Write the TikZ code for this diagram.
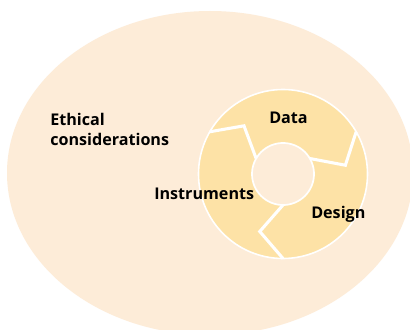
\documentclass[tikz,border=0pt]{standalone}
\usepackage{fontspec}
\setmainfont{Open Sans}
\usetikzlibrary{calc}
\definecolor{outerbg}{RGB}{253,236,216}
\definecolor{donut}{RGB}{253,226,166}
\tikzset{
  lbl/.style={font=\fontsize{12.1}{14}\selectfont\bfseries, text=black, inner sep=0pt, anchor=base west},
  gap/.style={draw=white, line width=2.3pt, line join=miter, line cap=butt},
}
\begin{document}
\begin{tikzpicture}[x=0.75pt,y=0.75pt]
\useasboundingbox (0,0) rectangle (410,329);
\clip (0,0) rectangle (410,329);
\fill[white] (0,0) rectangle (410,329);
% big ellipse
\fill[outerbg] (210,156) ellipse [x radius=203, y radius=162];
% donut
\coordinate (c) at (283,155);
\filldraw[fill=donut, draw=white, line width=1.2pt] (c) circle [radius=84.5];
\filldraw[fill=outerbg, draw=white, line width=1.3pt] (c) circle [radius=31];
% gaps (chevrons)
\draw[gap] ($(c)+(150:84.5)$) -- ($(c)+(129:62)$) -- ($(c)+(150:31)$);
\draw[gap] ($(c)+(30:84.5)$) -- ($(c)+(8:63)$) -- ($(c)+(30:31)$);
\draw[gap] ($(c)+(-90:84.5)$) -- ($(c)+(-112:62)$) -- ($(c)+(-90:31)$);
% labels
\node[lbl] (eth1) at (50,204) {Ethical};
\node[lbl] (eth2) at (50,184) {considerations};
\node[lbl] (instr) at (154,130) {Instruments};
\node[lbl] (data) at (269,205) {Data};
\node[lbl] (design) at (311,111) {Design};
\end{tikzpicture}
\end{document}
